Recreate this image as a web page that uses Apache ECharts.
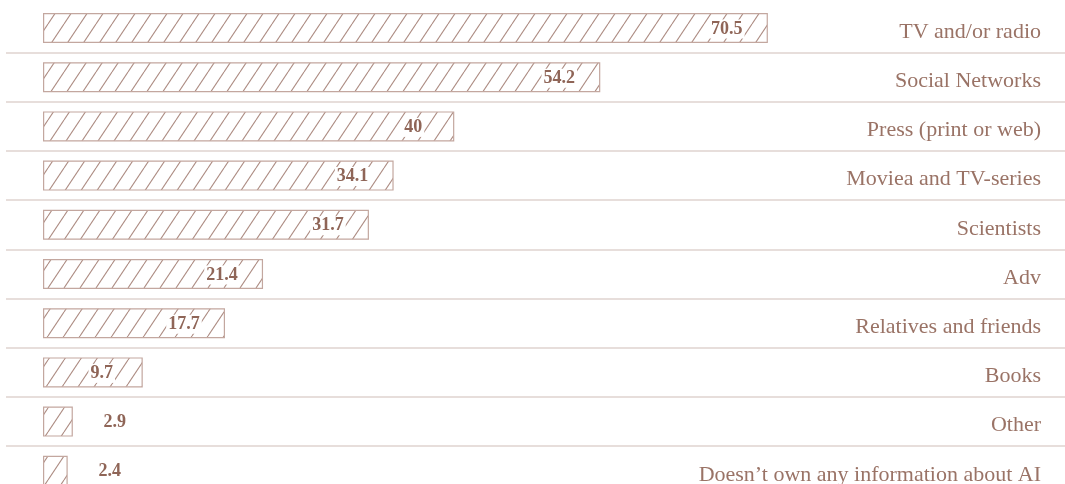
<!DOCTYPE html>
<html>
<head>
<meta charset="utf-8">
<script src="https://cdn.jsdelivr.net/npm/echarts@6/dist/echarts.min.js"></script>
<style>
html,body{margin:0;padding:0;background:#fff;overflow:hidden;}
#chart{width:1065px;height:500px;}
</style>
</head>
<body>
<div id="chart"></div>
<script>
const categories = [
  "TV and/or radio",
  "Social Networks",
  "Press (print or web)",
  "Moviea and TV-series",
  "Scientists",
  "Adv",
  "Relatives and friends",
  "Books",
  "Other",
  "Doesn\u2019t own any information about AI"
];
const values = [70.5, 54.2, 40, 34.1, 31.7, 21.4, 17.7, 9.7, 2.9, 2.4];

const textColor = '#9a7366';
const labelColor = '#8f6557';
const hatchColor = '#ad8c83';
const borderColor = '#c3a79f';
const sepColor = '#dfd3cf';

function makeHatch() {
  const w = 16, h = 24;
  const c = document.createElement('canvas');
  c.width = w; c.height = h;
  const ctx = c.getContext('2d');
  ctx.strokeStyle = hatchColor;
  ctx.lineWidth = 1.1;
  for (let k = -1; k <= 1; k++) {
    ctx.beginPath();
    ctx.moveTo(k * w, h);
    ctx.lineTo(k * w + w, 0);
    ctx.stroke();
  }
  return c;
}

const hatch = makeHatch();

const seriesData = values.map(function (v) {
  const small = v < 5;
  return {
    value: v,
    label: small
      ? { position: 'right', distance: 42, align: 'center' }
      : { position: 'insideRight', distance: 41, align: 'center' }
  };
});

const sepColors = categories.map(function (_, i) { return i === 0 ? 'rgba(0,0,0,0)' : sepColor; });
sepColors.push(sepColor);

const chart = echarts.init(document.getElementById('chart'), null, { renderer: 'canvas' });
chart.setOption({
  animation: false,
  backgroundColor: '#fff',
  grid: { left: 6, right: 0, top: 3.4, height: 492, containLabel: false },
  xAxis: {
    type: 'value',
    min: -3.6,
    max: 99.4,
    show: false
  },
  yAxis: {
    type: 'category',
    data: categories,
    inverse: true,
    position: 'right',
    axisLine: { show: false },
    axisTick: { show: false },
    splitLine: { show: true, lineStyle: { color: sepColors, width: 1.5 } },
    axisLabel: {
      inside: true,
      margin: 24,
      color: textColor,
      fontFamily: '"Liberation Serif", "DejaVu Serif", serif',
      fontSize: 22,
      verticalAlign: 'top',
      lineHeight: 8
    }
  },
  series: [{
    type: 'bar',
    data: seriesData,
    barWidth: 30,
    itemStyle: {
      color: { image: hatch, repeat: 'repeat' },
      borderColor: borderColor,
      borderWidth: 1.2
    },
    label: {
      show: true,
      color: labelColor,
      fontFamily: '"Liberation Serif", "DejaVu Serif", serif',
      fontWeight: 'bold',
      fontSize: 18,
      backgroundColor: '#fff',
      padding: [1, 2, 0, 2],
      offset: [0, 1]
    }
  }]
});
</script>
</body>
</html>
